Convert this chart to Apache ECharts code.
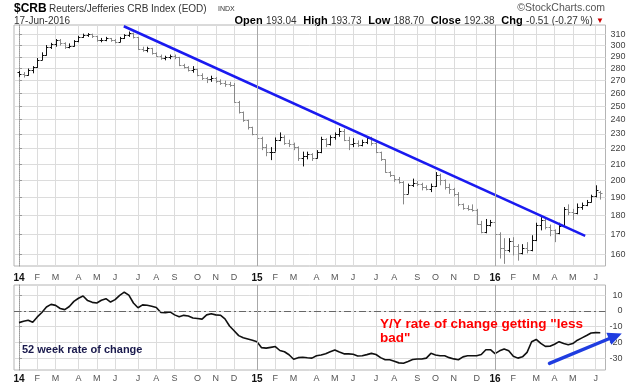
<!DOCTYPE html>
<html><head><meta charset="utf-8">
<script src="https://cdn.jsdelivr.net/npm/echarts@6/dist/echarts.min.js"></script>
<style>html,body{margin:0;padding:0;background:#fff}#c{width:640px;height:385px}</style>
</head><body><div id="c"></div>
<script>
// weekly bars, Jan 2014 .. Jun 2016
const opens=[277,275.5,274.5,278.5,281,287,292,299,301,305, 302,299,300,304,308,310,310.5,309,305,305.5, 306.5,305,303.5,307,309.5,312,308,297,296,297.5, 293,291,289,289.5,291,290,283,281,279,280, 275,272,271,272.5,270,268,267,266.5,253.5,246, 240,235,230,227,221,218,218,226,228,224, 223,221,214,215,216.5,214,218,226.5,223,227.5, 230,232,226,223,224,222.5,224.5,227,224,218, 213,205,203,200.5,199,192,197,198.5,198,196, 195,196.5,203.5,200,196,195,192,186,184,183.5, 183,175.5,171,175,176.5,170,163,162,166.5,164, 160.5,163,162,167,175,177.5,173.5,172,170.5,174.5, 183.5,182,181,184.5,185.5,187.5,190.5,193.04];
const highs=[278,277,280,282,289,294,300.5,302.5,306,306, 303,302,305,309,311,311.5,311,309,307,308, 307,306,308,310.5,313,312,308,299,299,298, 294,292,291,292,292,290,284,282,282,280, 276,273,274,273,271,270,269,268,254,246, 240,235,231,228,223,221,227.5,231,229,226, 224,221.5,218,218,217,219,228,227,229,231, 234,233.5,228,227,225.5,226,228.5,228,224.5,218, 213,205.5,203,202,199.5,198,201,199.5,198.5,197, 198,205,204,200.5,198,195.5,193,186.5,185.5,186, 183.5,177,178,177.5,176.5,171,168,168,168.5,165, 165,166,169.5,176,179,178,175,172.5,176,184.5, 186,183.5,186.5,187,188.5,191.5,197,193.73];
const lows=[273,272.5,274,276,280.5,287,291,297,299,300, 297,297.5,299,303,307,308,307,303.5,303,304, 303.5,302,303,306,308,306.5,296,294.5,294,292, 290,287.5,287,288,288,282,280,277.5,276.5,273.5, 270.5,268,269,268,266.5,265,265,252.5,244.5,238.5, 233,229,225.5,219,215,212.5,218,225,222.5,221, 219,212,208.5,213,212,213.5,217,221,222,226, 228,225,219,221,221,221.5,223,222,217,212, 204.5,202,199,198,186,192,196,196.5,194,194, 193,196,197,194.5,192,190.5,185,183,182.5,182, 175,170.5,170.5,174,169,158,155.5,161,159.5,157, 160,160.5,161.5,166.5,172,172.5,169,166,170,174, 180,177.5,180.5,183,185,187,190,188.7];
const closes=[275.5,274.5,278.5,281,287,292,299,301,305,302, 299,300,304,308,310,310.5,309,305,305.5,306.5, 305,303.5,307,309.5,312,308,297,296,297.5,293, 291,289,289.5,291,290,283,281,279,280,275, 272,271,272.5,270,268,267,266.5,253.5,246,240, 235,230,227,221,218,218,226,228,224,223, 221,214,215,216.5,214,218,226.5,223,227.5,230, 232,226,223,224,222.5,224.5,227,224,218,213, 205,203,200.5,199,192,197,198.5,198,196,195, 196.5,203.5,200,196,195,192,186,184,183.5,183, 175.5,171,175,176.5,170,163,162,166.5,164,160.5, 163,162,167,175,177.5,173.5,172,170.5,174.5,183.5, 182,181,184.5,185.5,187.5,190.5,194,192.38];
// 52-week rate of change (%)
const roc=[-7.4,-6.5,-5.9,-7.2,-3.8,-1.0,2.5,4.1,3.5,1.5, 0.8,2.8,6.0,8.0,9.4,6.5,5.4,5.0,6.7,7.7, 5.6,7.1,9.8,11.8,10.0,5.0,2.0,3.8,3.6,2.9, 2.1,-1.0,-1.2,-0.6,-2.5,-3.7,-2.8,-3.2,-4.5,-4.8, -5.2,-2.5,-1.8,-2.5,-2.7,-5.0,-9.5,-12.5,-15.6,-17.0, -17.7,-18.5,-19.5,-23.2,-23.5,-23.0,-22.5,-25.0,-25.8,-27.7, -30.5,-29.5,-29.3,-29.6,-29.8,-28.3, -27.8,-27.0,-25.8,-24.7, -26.0,-27.1,-27.1,-27.4,-28.5,-28.3,-27.6,-26.8,-27.5,-29.5, -30.8,-30.8,-31.8,-32.8,-33.0,-31.9,-30.7,-30.4,-30.4,-29.8, -26.8,-27.8,-28.3,-28.3,-29.5,-30.3,-30.8,-29.0,-28.3,-28.3, -28.3,-27.5,-24.5,-24.5,-27.0,-25.2,-24.0,-25.2,-28.6,-29.8, -29.0,-26.2,-19.5,-18.0,-20.5,-22.4,-22.3,-21.0,-19.4,-20.6, -21.4,-20.6,-18.5,-17.0,-15.5,-13.9,-13.7,-13.8];
const priceTicks=[160,170,180,190,200,210,220,230,240,250,260,270,280,290,300,310];
const rocTicks=[-30,-20,-10,0,10];
const monthIdx=[0,4,8,13,17,21,26,30,34,39,43,47,52,56,60,65,69,73,78,82,87,91,95,100,104,108,113,117,121,126];
const monthLbl=['14','F','M','A','M','J','J','A','S','O','N','D','15','F','M','A','M','J','J','A','S','O','N','D','16','F','M','A','M','J'];
const yearIdx=[52,104];
const trend=[[22.9,318],[123.7,169.2]];
const arrowPts=[[115.9,-33.1],[131.7,-14.2]];

const FONT='"Liberation Sans", Arial, sans-serif';
const ohlc=closes.map((c,i)=>[i,opens[i],highs[i],lows[i],c]);
const rocData=roc.map((v,i)=>[i,v]);
const lblMap={}; monthIdx.forEach((k,j)=>{lblMap[k]=monthLbl[j];});

function xAxis(gi,margin){return {
  type:'value',gridIndex:gi,min:-1.09,max:128.14,position:'bottom',
  axisLine:{show:false},axisTick:{show:false,customValues:monthIdx},
  axisLabel:{customValues:monthIdx,margin:margin,fontSize:9,color:'#555',fontFamily:FONT,
    formatter:v=>{const s=lblMap[Math.round(v)]||'';return /\d/.test(s)?'{y|'+s+'}':s;},
    rich:{y:{fontWeight:'bold',fontSize:10,color:'#111',fontFamily:FONT}}},
  splitLine:{show:true,lineStyle:{color:'#dcdcdc',width:1}}
};}

function renderOHLC(params,api){
  const i=api.value(0);
  const h=api.coord([i,api.value(2)]),l=api.coord([i,api.value(3)]);
  const o=api.coord([i,api.value(1)]),c=api.coord([i,api.value(4)]);
  const x=Math.round(h[0])+0.5;
  const up=i===0||closes[i]>=closes[i-1];
  const st={stroke:up?'#111':'#888',lineWidth:1};
  const oy=Math.round(o[1])+0.5,cy=Math.round(c[1])+0.5;
  return {type:'group',children:[
    {type:'line',shape:{x1:x,y1:h[1],x2:x,y2:l[1]},style:st},
    {type:'line',shape:{x1:x-2,y1:oy,x2:x,y2:oy},style:st},
    {type:'line',shape:{x1:x,y1:cy,x2:x+2,y2:cy},style:st}
  ]};
}

const chart=echarts.init(document.getElementById('c'),null,{renderer:'canvas'});
const option={
  animation:false,
  backgroundColor:'#fff',
  textStyle:{fontFamily:FONT},
  grid:[
    {left:14,right:34.5,top:25,bottom:119,show:true,borderColor:'#b4b4b4',borderWidth:1,containLabel:false,outerBoundsMode:'none'},
    {left:14,right:34.5,top:285,bottom:15,show:true,borderColor:'#b4b4b4',borderWidth:1,containLabel:false,outerBoundsMode:'none'}
  ],
  xAxis:[xAxis(0,7),xAxis(1,4)],
  yAxis:[
    {type:'log',gridIndex:0,position:'right',min:154.5,max:319.2,logBase:10,
     axisLine:{show:true,lineStyle:{color:'#999',type:'dotted'}},
     axisTick:{show:true,length:3,customValues:priceTicks,lineStyle:{color:'#999'}},
     axisLabel:{customValues:priceTicks,margin:5,fontSize:9,color:'#444',fontFamily:FONT},
     splitLine:{show:true,lineStyle:{color:'#dcdcdc',width:1}}},
    {type:'value',gridIndex:1,position:'right',min:-37.3,max:16.35,
     axisLine:{show:true,lineStyle:{color:'#999',type:'dotted'}},
     axisTick:{show:true,length:3,customValues:rocTicks,lineStyle:{color:'#999'}},
     axisLabel:{customValues:rocTicks,margin:17,align:'right',fontSize:9,color:'#444',fontFamily:FONT},
     splitLine:{show:true,lineStyle:{color:'#dcdcdc',width:1}}}
  ],
  series:[
    {type:'line',xAxisIndex:0,yAxisIndex:0,data:[],silent:true,
     markLine:{silent:true,symbol:'none',label:{show:false},animation:false,
       lineStyle:{color:'#a8a8a8',type:'solid',width:1},
       data:yearIdx.map(v=>({xAxis:v}))}},
    {type:'custom',xAxisIndex:0,yAxisIndex:0,data:ohlc,renderItem:renderOHLC,
     encode:{x:0,y:[1,2,3,4]},silent:true,z:3},
    {type:'line',xAxisIndex:0,yAxisIndex:0,data:trend,showSymbol:false,silent:true,
     lineStyle:{color:'#1a1af0',width:2.5},z:4},
    {type:'line',xAxisIndex:1,yAxisIndex:1,data:rocData,showSymbol:false,silent:true,
     lineStyle:{color:'#111',width:1.6},z:4,
     markLine:{silent:true,symbol:'none',label:{show:false},animation:false,
       data:[
         {yAxis:0,lineStyle:{color:'#666',type:[7,3,2,3],width:1}},
         ...yearIdx.map(v=>({xAxis:v,lineStyle:{color:'#a8a8a8',type:'solid',width:1}}))
       ]}}
  ],
  graphic:[
    {type:'text',id:'t1',x:14,y:9,style:{text:'$CRB',font:'bold 12px '+FONT,fill:'#000',verticalAlign:'middle'}},
    {type:'text',id:'t2',x:49,y:9.5,style:{text:'Reuters/Jefferies CRB Index (EOD)',font:'10px '+FONT,fill:'#333',verticalAlign:'middle'}},
    {type:'text',id:'t3',x:218,y:9.5,style:{text:'INDX',font:'7px '+FONT,fill:'#333',verticalAlign:'middle'}},
    {type:'text',id:'t4',x:14,y:21,style:{text:'17-Jun-2016',font:'10px '+FONT,fill:'#333',verticalAlign:'middle'}},
    {type:'text',id:'t5',x:605,y:8,style:{text:'\u00A9StockCharts.com',font:'10.5px '+FONT,fill:'#555',align:'right',verticalAlign:'middle'}},
    {type:'text',id:'t6',x:604,y:21,style:{
      text:'{b|Open} {v|193.04}  {b|High} {v|193.73}  {b|Low} {v|188.70}  {b|Close} {v|192.38}  {b|Chg} {v|-0.51 (-0.27 %)} {r|\u25BC}',
      align:'right',verticalAlign:'middle',
      rich:{b:{font:'bold 11px '+FONT,fill:'#000'},v:{font:'10px '+FONT,fill:'#333'},r:{font:'8px '+FONT,fill:'#c00'}}}},
    {type:'text',id:'t7',x:22,y:350,z:10,style:{text:'52 week rate of change',font:'bold 11px '+FONT,fill:'#1a1a4d',verticalAlign:'middle'}},
    {type:'text',id:'t8',x:380,y:324,z:10,style:{text:'Y/Y rate of change getting "less',font:'bold 13.5px '+FONT,fill:'#f00',verticalAlign:'middle'}},
    {type:'text',id:'t9',x:380,y:338,z:10,style:{text:'bad"',font:'bold 13.5px '+FONT,fill:'#f00',verticalAlign:'middle'}}
  ]
};
chart.setOption(option);

// blue arrow annotation placed through the lower grid's scales
const p1=chart.convertToPixel({gridIndex:1},arrowPts[0]);
const p2=chart.convertToPixel({gridIndex:1},arrowPts[1]);
const dx=p2[0]-p1[0],dy=p2[1]-p1[1],len=Math.hypot(dx,dy),ux=dx/len,uy=dy/len;
const hl=14,hw=6.5;
const bx=p2[0]-ux*hl,by=p2[1]-uy*hl;
chart.setOption({graphic:[
  {type:'line',id:'a1',z:10,shape:{x1:p1[0],y1:p1[1],x2:bx+ux*2,y2:by+uy*2},style:{stroke:'#1f3de0',lineWidth:3.5,lineCap:'round'}},
  {type:'polygon',id:'a2',z:10,shape:{points:[[p2[0],p2[1]],[bx-uy*hw,by+ux*hw],[bx+uy*hw,by-ux*hw]]},style:{fill:'#1f3de0'}}
]});
</script></body></html>
